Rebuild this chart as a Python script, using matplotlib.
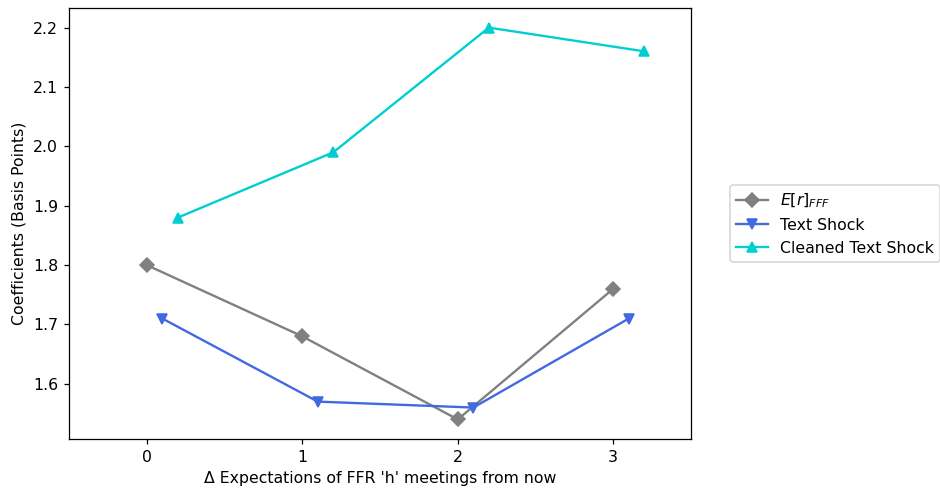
import numpy as np
import matplotlib
matplotlib.use("Agg")
import matplotlib.pyplot as plt

# horizonte (reuniones) y coeficientes
horizons = np.array([0, 1, 2, 3])
er_fff = [1.80, 1.68, 1.54, 1.76]
text_shock = [1.71, 1.57, 1.56, 1.71]
cleaned_shock = [1.88, 1.99, 2.20, 2.16]
tick_labels = ["0", "1", "2", "3"]

DPI = 113
fig = plt.figure(figsize=(940 / DPI, 489 / DPI), dpi=DPI)
ax = fig.add_axes([0.0734, 0.1022, 0.6617, 0.8814])

ax.plot(horizons, er_fff, marker="D", color="grey", label=r"$E[r]_{FFF}$")
ax.plot(horizons + 0.1, text_shock, marker="v", color="royalblue", label="Text Shock")
ax.plot(horizons + 0.2, cleaned_shock, marker="^", color="darkturquoise", label="Cleaned Text Shock")

ax.set_xlim(-0.5, 3.5)
ax.set_xticks(horizons)
ax.set_xticklabels(tick_labels)
ax.set_xlabel("Δ Expectations of FFR 'h' meetings from now")
ax.set_ylabel("Coefficients (Basis Points)")
ax.legend(loc="center left", bbox_to_anchor=(1.05, 0.5))

fig.savefig("out.png", dpi=DPI)
